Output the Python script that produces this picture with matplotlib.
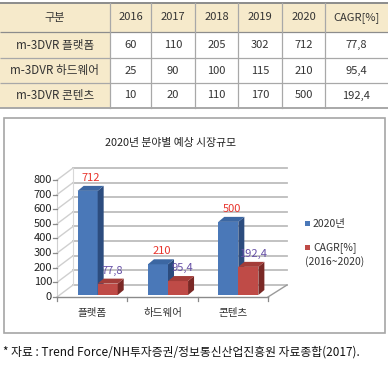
import matplotlib
matplotlib.use("Agg")
import matplotlib.pyplot as plt
from matplotlib.patches import Rectangle, Polygon
from matplotlib.lines import Line2D
from matplotlib.transforms import ScaledTranslation, IdentityTransform
import numpy as np

plt.rcParams['font.family'] = ['Noto Sans CJK KR', 'DejaVu Sans']

# ---------------- data ----------------
table_header = ['구분', '2016', '2017', '2018', '2019', '2020', 'CAGR[%]']
row_names = ['m-3DVR 플랫폼', 'm-3DVR 하드웨어', 'm-3DVR 콘텐츠']
val_2016 = [60, 25, 10]
val_2017 = [110, 90, 20]
val_2018 = [205, 100, 110]
val_2019 = [302, 115, 170]
val_2020 = [712, 210, 500]
cagr = [77.8, 95.4, 192.4]

categories = ['플랫폼', '하드웨어', '콘텐츠']
y_ticks = [0, 100, 200, 300, 400, 500, 600, 700, 800]
chart_title = '2020년 분야별 예상 시장규모'
legend_labels = ['2020년', 'CAGR[%]', '(2016~2020)']
source_text = '* 자료 : Trend Force/NH투자증권/정보통신산업진흥원 자료종합(2017).'

def fmt(v):
    return ('%g' % v).replace('.', ',')

# ---------------- figure ----------------
W, H = 388, 368
fig = plt.figure(figsize=(W / 100, H / 100), dpi=100)
lay = fig.add_axes([0, 0, 1, 1])
lay.set_xlim(0, W)
lay.set_ylim(H, 0)
lay.axis('off')

# ---------------- table ----------------
beige = '#f6eacb'
cols_x = [0, 110, 151, 195, 238, 282, 325, 388]
rows_y = [3, 32, 58, 83, 108]
lay.add_patch(Rectangle((0, rows_y[0]), W, rows_y[1] - rows_y[0], fc=beige, ec='none'))
lay.add_patch(Rectangle((0, rows_y[1]), cols_x[1], rows_y[-1] - rows_y[1], fc=beige, ec='none'))
for i, yy in enumerate(rows_y):
    lw = 1.4 if i in (0, len(rows_y) - 1) else 0.9
    col = '#8c8c8c' if i in (0, 1) else '#a8a8a8'
    lay.plot([0, W], [yy, yy], color=col, lw=lw, solid_capstyle='butt')
for xx in cols_x[1:-1]:
    lay.plot([xx, xx], [rows_y[0], rows_y[-1]], color='#a8a8a8', lw=0.9)

tcol = '#333333'
centers = [(cols_x[i] + cols_x[i + 1]) / 2 for i in range(len(cols_x) - 1)]
for j, txt in enumerate(table_header):
    lay.text(centers[j], (rows_y[0] + rows_y[1]) / 2, txt, ha='center', va='center',
             fontsize=8, color=tcol)
for r in range(3):
    vals = [row_names[r], val_2016[r], val_2017[r], val_2018[r], val_2019[r], val_2020[r], fmt(cagr[r])]
    yc = (rows_y[r + 1] + rows_y[r + 2]) / 2
    for j, v in enumerate(vals):
        fs = 8.4 if j == 0 else 8
        lay.text(centers[j], yc, str(v), ha='center', va='center', fontsize=fs, color=tcol)

# ---------------- chart box ----------------
lay.add_patch(Rectangle((4, 118), 381, 215, fc='white', ec='#a6a6a6', lw=1.2, zorder=1))
lay.text(171, 143, chart_title, ha='center', va='center', fontsize=7.8, color='#222222')

# ---------------- 3D-like bar chart ----------------
ax = fig.add_axes([57 / W, (H - 297) / H, (268 - 57) / W, (297 - 180) / H])
ax.set_xlim(-0.5, 2.5)
ax.set_ylim(0, 800)
ax.axis('off')
ax.patch.set_alpha(0)

dpi = fig.dpi
def off(dx, dy):
    return ScaledTranslation(dx / dpi, dy / dpi, fig.dpi_scale_trans)

WALL = np.array([16.0, 12.0])
def P(x, v, depth=0.0, extra=(0, 0)):
    p = ax.transData.transform((x, v))
    return p + depth * WALL + np.array(extra)

ident = IdentityTransform()

def wall_line(p, q, color, lw, z=3):
    lay.add_artist(Line2D([p[0], q[0]], [p[1], q[1]], transform=ident, color=color, lw=lw,
                          zorder=z, clip_on=False))

grid_c = '#bdbdbd'
for v in y_ticks:
    a = P(-0.5, v, 1.0)
    b = P(2.5, v, 1.0) + np.array([3, 0])
    wall_line(a, b, grid_c, 1.3)
    f = P(-0.5, v, 0.0)
    wall_line(f, a, '#cfcfcf', 1.0)
a0 = P(-0.5, 0, 1.0); a8 = P(-0.5, 800, 1.0)
wall_line(a0, a8, '#d8d8d8', 0.8)
f0 = P(-0.5, 0); f8 = P(-0.5, 800)
wall_line(f0, f8, '#d0d0d0', 0.8)
fr = P(2.5, 0); br = P(2.5, 0, 1.0) + np.array([3, 0])
wall_line(f0, fr, '#8a8a8a', 1.0, 4)
wall_line(fr, br, '#9a9a9a', 1.0, 4)
for xb in [-0.5, 0.5, 1.5, 2.5]:
    p = P(xb, 0)
    wall_line(p, p - np.array([0, 4]), '#8a8a8a', 0.9, 4)
for v in y_ticks:
    p = P(-0.5, v)
    wall_line(p - np.array([4, 0]), p, '#8a8a8a', 0.9, 4)
    ax.text(-0.5, v, str(v), transform=ax.transData + off(-5, 0), ha='right', va='center',
            fontsize=8, color='#222222', clip_on=False)
for i, c in enumerate(categories):
    ax.text(i, 0, c, transform=ax.transData + off(0, -16), ha='center', va='center',
            fontsize=7.6, color='#333333', clip_on=False)

# bars
bw = 0.285
BAR_OFF = (5.5, 2.0)
DEPTH = np.array([6.0, 5.0])
series = [
    (val_2020, -bw / 2, '#4a78b8', '#2c4c7e', '#3c67a2', '#e8342c', 3.5),
    (cagr, bw / 2, '#bf4b47', '#7a2825', '#a33d39', '#6650a6', 4.5),
]
z = 5
for i in range(len(categories)):
    for vals, dx, cf, cs, ct, lc, lx in series:
        v = vals[i]
        xl, xr = i + dx - bw / 2, i + dx + bw / 2
        ax.bar(i + dx, v, width=bw, color=cf, edgecolor='none',
               transform=ax.transData + off(*BAR_OFF), zorder=z, clip_on=False)
        br_ = P(xr, 0, 0, BAR_OFF)
        tl = P(xl, v, 0, BAR_OFF); tr = P(xr, v, 0, BAR_OFF)
        side = Polygon([br_, tr, tr + DEPTH, br_ + DEPTH], closed=True, transform=ident,
                       fc=cs, ec='none', zorder=z + 0.1, clip_on=False)
        top = Polygon([tl, tr, tr + DEPTH, tl + DEPTH], closed=True, transform=ident,
                      fc=ct, ec='none', zorder=z + 0.2, clip_on=False)
        ax.add_artist(side)
        ax.add_artist(top)
        z += 1
        ax.text(i + dx, v, fmt(v), transform=ax.transData + off(BAR_OFF[0] + lx, 15),
                ha='center', va='center', fontsize=8, color=lc, zorder=50, clip_on=False)

# legend
leg_cols = ['#4a78b8', '#bf4b47']
lay.add_patch(Rectangle((305, 221), 4.5, 4.5, fc=leg_cols[0], ec='none', zorder=3))
lay.add_patch(Rectangle((305, 245), 4.5, 4.5, fc=leg_cols[1], ec='none', zorder=3))
lay.text(313, 223.5, legend_labels[0], ha='left', va='center', fontsize=7.5, color='#333333')
lay.text(313, 247.5, legend_labels[1], ha='left', va='center', fontsize=7.5, color='#333333')
lay.text(305, 262, legend_labels[2], ha='left', va='center', fontsize=7.5, color='#333333')

# source
lay.text(3, 352, source_text, ha='left', va='center', fontsize=8.5, color='#111111')

fig.savefig('out.png', dpi=100)
